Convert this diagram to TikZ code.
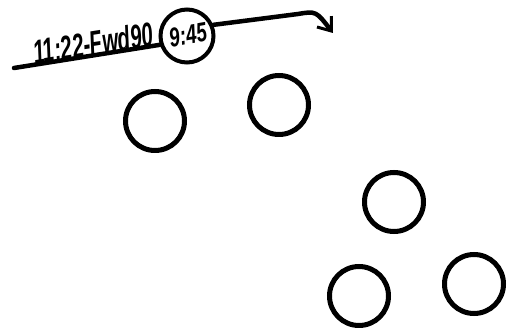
\documentclass[tikz,border=0pt]{standalone}
\usepackage{fontspec}
\setmainfont{Liberation Sans}
\usetikzlibrary{arrows.meta}
\begin{document}
\begin{tikzpicture}[x=1pt,y=-1pt,
  player/.style={draw=black,circle,line width=5pt,minimum size=59pt,inner sep=0pt},
  ballcarrier/.style={draw=black,circle,line width=4pt,minimum size=53pt,inner sep=0pt},
  route/.style={line width=4.5pt,line cap=round,line join=round},
  hand/.style={inner sep=0pt}]
\useasboundingbox (0,0) rectangle (509,328);
\node[ballcarrier] (top) at (187,36) {};
\node[hand,rotate=10,xscale=0.7,font=\fontsize{27}{27}\selectfont\bfseries\itshape] (time) at (188,35) {9:45};
\node[player] (p1) at (155,121) {};
\node[player] (p2) at (279,105) {};
\node[player] (p3) at (394,202) {};
\node[player] (p4) at (359,296) {};
\node[player] (p5) at (474,284) {};
\node[hand,rotate=9,xscale=0.6,font=\fontsize{34}{34}\selectfont\bfseries\itshape] (label) at (93,43) {11:22-Fwd90};
\coordinate (start) at (14,68);
\coordinate (bend) at (298,14);
\coordinate (tip) at (333,33);
\draw[route] (start) -- (top.198);
\draw[route,-{Straight Barb[length=12pt,width=18pt,line width=3pt]}] (top.23) -- (bend) .. controls (316,11) .. (tip);
\end{tikzpicture}
\end{document}
